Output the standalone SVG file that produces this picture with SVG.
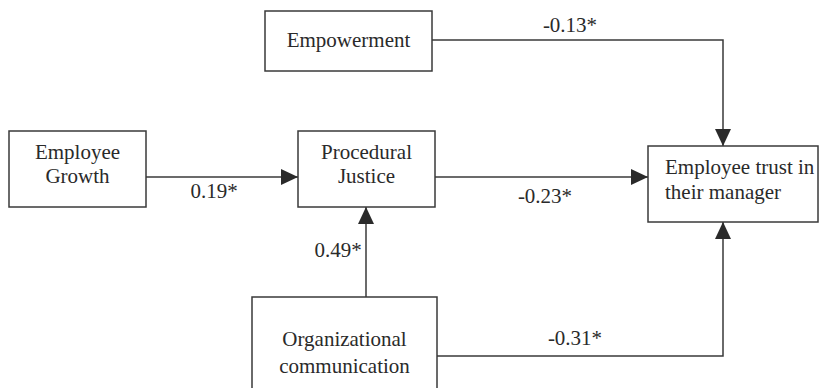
<svg xmlns="http://www.w3.org/2000/svg" width="838" height="388" viewBox="0 0 838 388">
<style>
.box{fill:#fff;stroke:#3a3a3a;stroke-width:1.5}
.t{font-size:21px;fill:#2a2a2a}
.c{text-anchor:middle}
.e{fill:none;stroke:#3a3a3a;stroke-width:1.5}
</style>
<defs>
<marker id="ah" markerUnits="userSpaceOnUse" viewBox="0 0 17 16" markerWidth="17" markerHeight="16" refX="17" refY="8" orient="auto">
<path d="M0,0 L17,8 L0,16 z" fill="#2a2a2a"/>
</marker>
</defs>
<rect width="838" height="388" fill="#fff"/>
<g font-family="'Liberation Serif', 'Times New Roman', serif">
<g id="connectors">
<path class="e" d="M432,40 H723 V146" marker-end="url(#ah)"/>
<path class="e" d="M146,177 H298" marker-end="url(#ah)"/>
<path class="e" d="M435,177 H648" marker-end="url(#ah)"/>
<path class="e" d="M366,297 V207" marker-end="url(#ah)"/>
<path class="e" d="M437,356 H723 V222" marker-end="url(#ah)"/>
<text class="t c" x="570" y="32">-0.13*</text>
<text class="t c" x="214" y="198">0.19*</text>
<text class="t c" x="545" y="203">-0.23*</text>
<text class="t c" x="338" y="257">0.49*</text>
<text class="t c" x="575" y="345">-0.31*</text>
</g>
<g id="empowerment">
<rect class="box" x="265" y="11" width="167" height="60"/>
<text class="t c" x="348.5" y="47">Empowerment</text>
</g>
<g id="employee-growth">
<rect class="box" x="9" y="131" width="137" height="76"/>
<text class="t c" x="77.5" y="159">Employee</text>
<text class="t c" x="77.5" y="183">Growth</text>
</g>
<g id="procedural-justice">
<rect class="box" x="298" y="131" width="137" height="76"/>
<text class="t c" x="366.5" y="159">Procedural</text>
<text class="t c" x="366.5" y="183">Justice</text>
</g>
<g id="employee-trust">
<rect class="box" x="648" y="146" width="170" height="76"/>
<text class="t" x="665" y="174">Employee trust in</text>
<text class="t" x="665" y="199">their manager</text>
</g>
<g id="org-communication">
<rect class="box" x="252" y="297" width="185" height="100"/>
<text class="t c" x="344.5" y="346">Organizational</text>
<text class="t c" x="344.5" y="373">communication</text>
</g>
</g>
</svg>
